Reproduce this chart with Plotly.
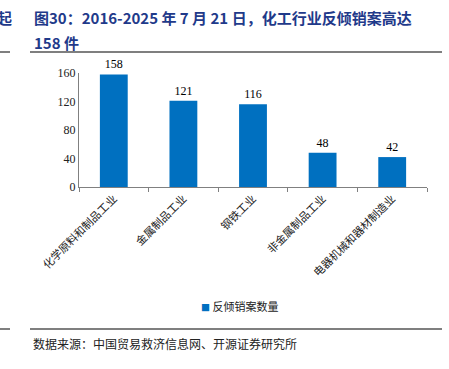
import plotly.graph_objects as go

categories = ["化学原料和制品工业", "金属制品工业", "钢铁工业", "非金属制品工业", "电器机械和器材制造业"]
values = [158, 121, 116, 48, 42]
series_name = "反倾销案数量"
y_ticks = [0, 40, 80, 120, 160]

W, H = 449, 369
L, R, T, B = 79, 427, 73, 187

def px(x):
    return (x - L) / (R - L)

def py(y):
    return (B - y) / (B - T)

CJK = "Noto Sans CJK SC"
SERIF = "Liberation Serif"
BLUE = "#0070C0"

fig = go.Figure()
fig.add_trace(go.Bar(
    x=categories, y=values, name=series_name,
    marker=dict(color=BLUE, line=dict(width=0)),
    width=0.4,
    text=[str(v) for v in values], textposition="outside",
    textfont=dict(family=SERIF, size=12, color="#000000"),
    cliponaxis=False, showlegend=False, hoverinfo="skip",
))

fig.update_layout(
    width=W, height=H, autosize=False,
    margin=dict(l=L, r=W - R, t=T, b=H - B, autoexpand=False),
    paper_bgcolor="white", plot_bgcolor="white",
    showlegend=False,
    xaxis=dict(showline=True, linecolor="#808080", linewidth=1, automargin=False,
               ticks="outside", tickson="boundaries", ticklen=4, tickcolor="#808080",
               tickangle=-45, tickfont=dict(family=CJK, size=11, color="#222222"),
               showgrid=False, fixedrange=True),
    yaxis=dict(range=[0, 160], tickvals=y_ticks, showline=True, linecolor="#808080", linewidth=1,
               ticks="", showgrid=False, zeroline=False, automargin=False, fixedrange=True,
               tickfont=dict(family=SERIF, size=12, color="#222222")),
    bargap=0.6,
)

# Legend (drawn as text)
fig.add_annotation(xref="paper", yref="paper", x=px(199), y=py(306), xanchor="left", yanchor="middle",
                   text=f'<span style="color:{BLUE};font-size:9px">■</span> {series_name}', showarrow=False,
                   font=dict(family=CJK, size=11, color="#222222"))

# Title
fig.add_annotation(xref="paper", yref="paper", x=px(32), y=py(17), xanchor="left", yanchor="middle",
                   text="<b>图30：2016-2025 年 7 月 21 日，化工行业反倾销案高达</b>", showarrow=False,
                   font=dict(family=CJK, size=15, color="#1F3A8A"))
fig.add_annotation(xref="paper", yref="paper", x=px(32), y=py(42), xanchor="left", yanchor="middle",
                   text="<b>158 件</b>", showarrow=False,
                   font=dict(family=CJK, size=15, color="#1F3A8A"))
fig.add_annotation(xref="paper", yref="paper", x=px(-5), y=py(17), xanchor="left", yanchor="middle",
                   text="<b>起</b>", showarrow=False,
                   font=dict(family=CJK, size=15, color="#1F3A8A"))
# Source
fig.add_annotation(xref="paper", yref="paper", x=px(31), y=py(343), xanchor="left", yanchor="middle",
                   text="数据来源：中国贸易救济信息网、开源证券研究所", showarrow=False,
                   font=dict(family=CJK, size=12, color="#222222"))

for y in (52, 329):
    fig.add_shape(type="line", xref="paper", yref="paper", x0=px(30), x1=px(442), y0=py(y), y1=py(y),
                  line=dict(color="#555555", width=1.5))
    fig.add_shape(type="line", xref="paper", yref="paper", x0=px(0), x1=px(10), y0=py(y), y1=py(y),
                  line=dict(color="#555555", width=1.5))

fig.write_html("out.html", config={"displayModeBar": False},
               post_script="document.body.style.margin='0px';document.body.style.overflow='hidden';")
